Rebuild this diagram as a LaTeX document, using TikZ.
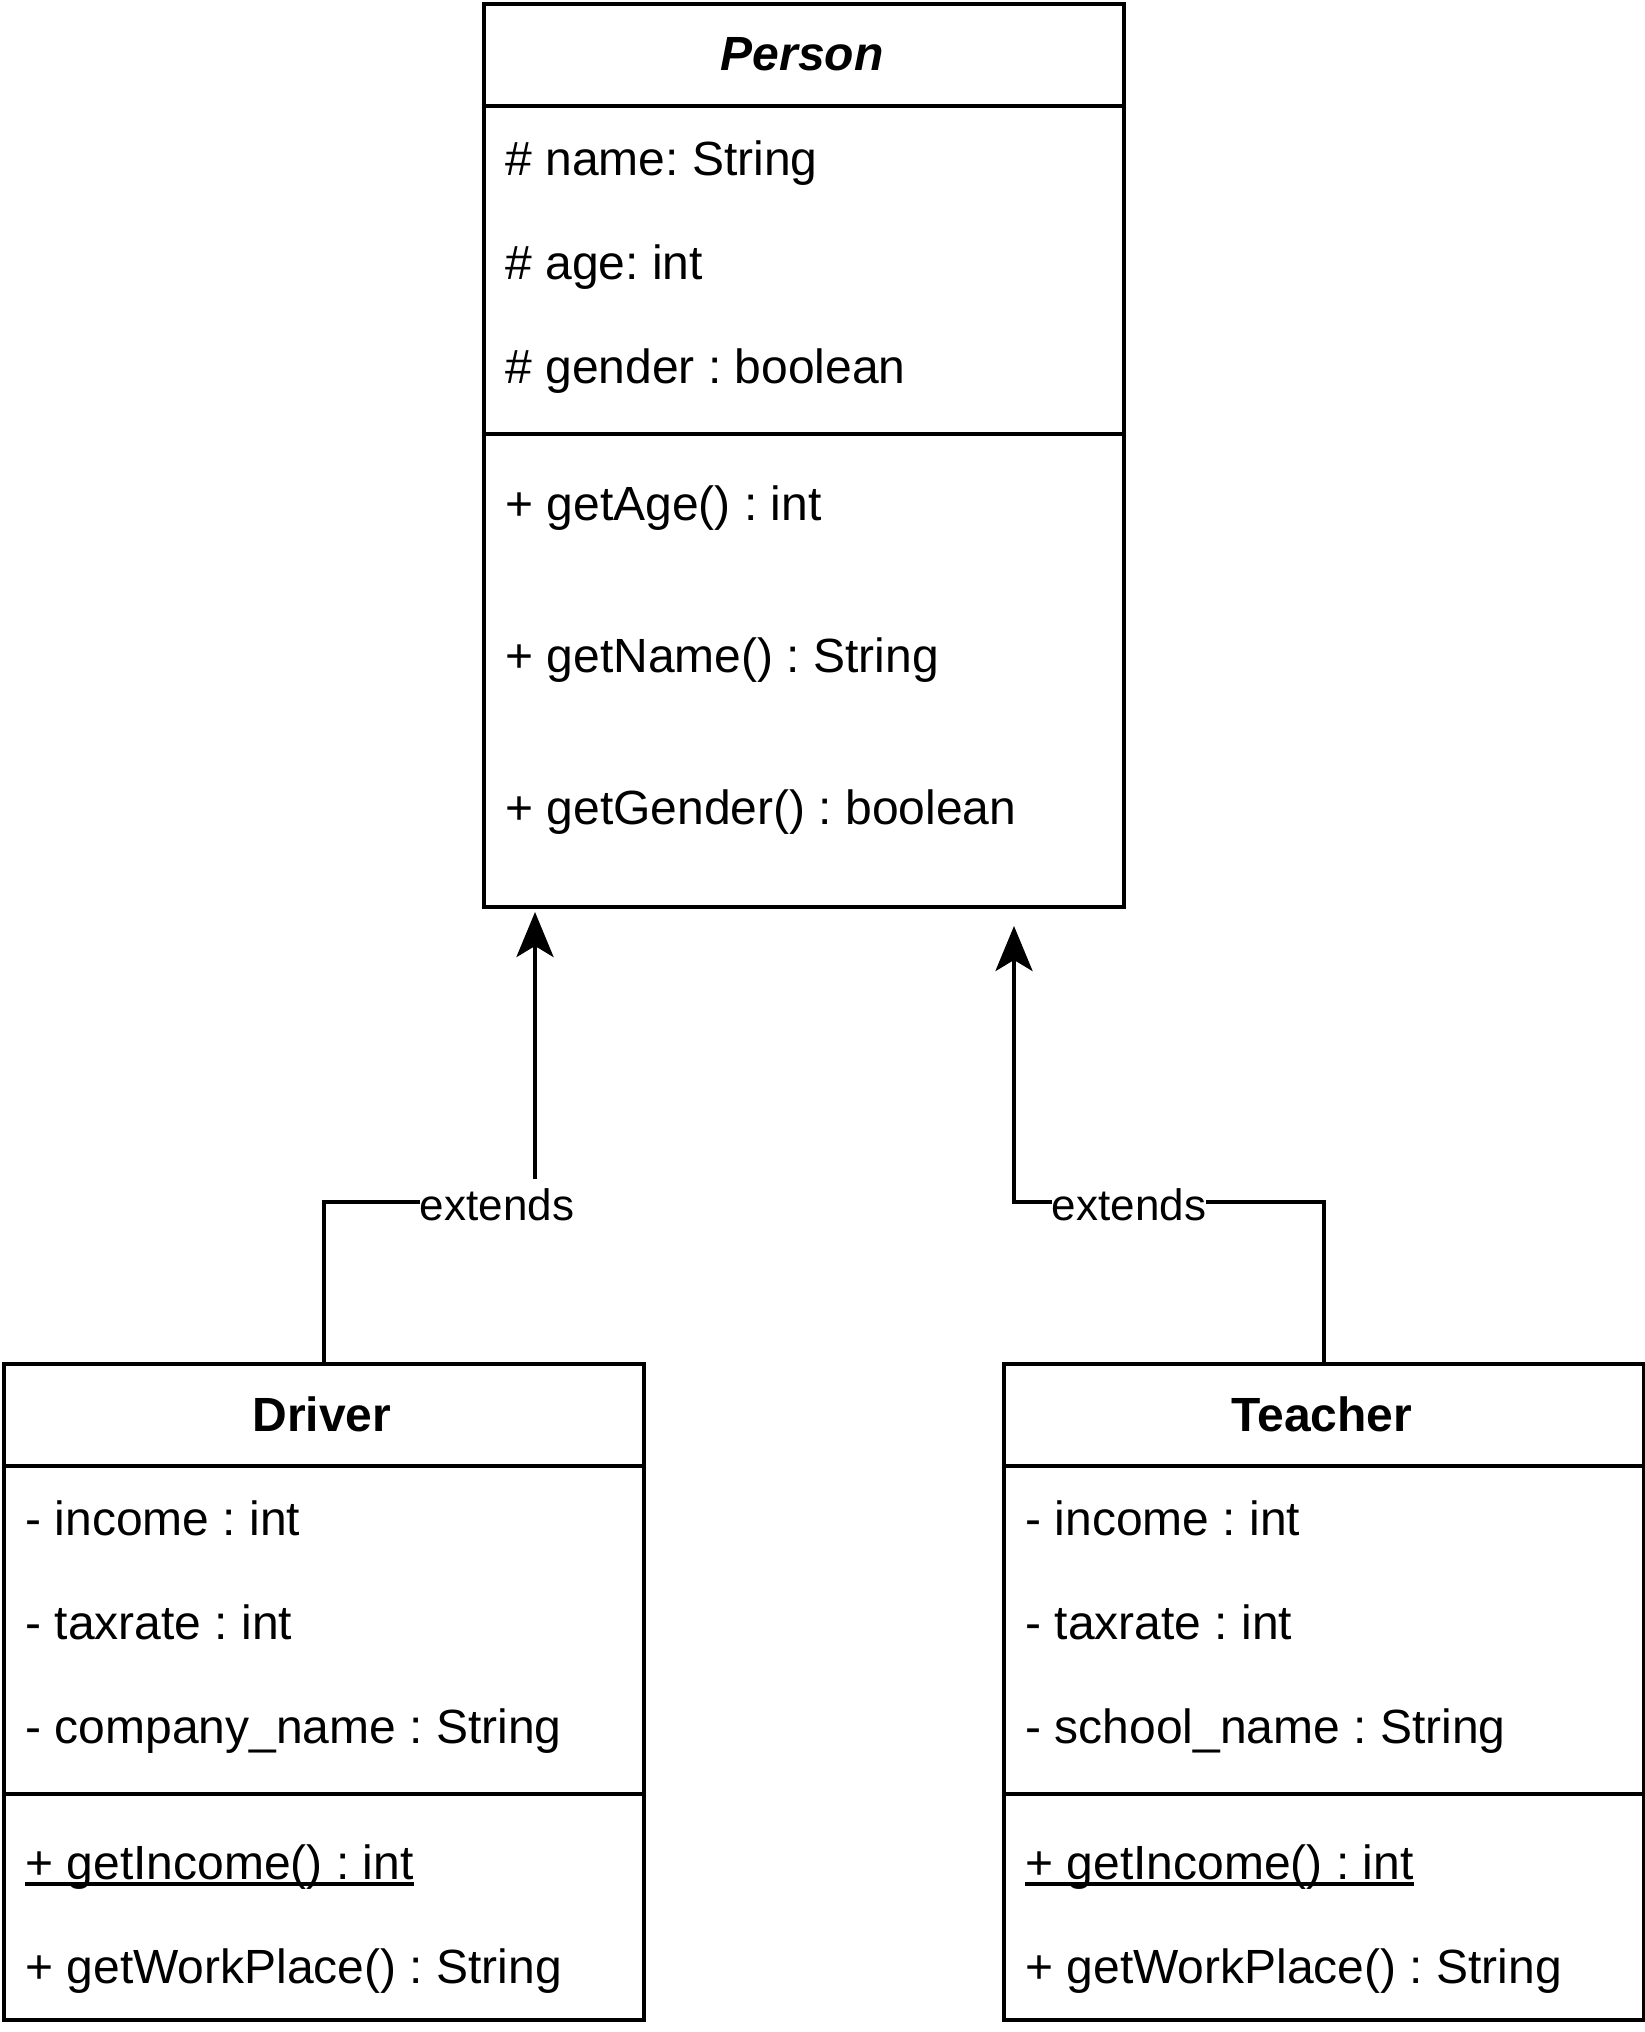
\documentclass[tikz,border=0pt]{standalone}
\usepackage{fontspec}
\setmainfont{Liberation Sans}
\usetikzlibrary{arrows.meta}
\frenchspacing
\tikzset{
  classbox/.style={draw, line width=2pt, inner sep=0pt, anchor=north west, minimum width=320pt},
  divider/.style={line width=2pt},
  member/.style={anchor=base west, inner sep=0pt, font=\fontsize{24pt}{28pt}\selectfont},
  header/.style={anchor=base, inner sep=0pt, font=\fontsize{24pt}{28pt}\selectfont\bfseries},
  aheader/.style={anchor=base, inner sep=0pt, font=\fontsize{24pt}{28pt}\selectfont\bfseries\itshape},
  conn/.style={line width=2pt, -{Stealth[length=22.5pt 0, width=18.5pt 0, inset=5.5pt 0]}},
  lbl/.style={anchor=base, fill=white, inner xsep=0pt, inner ysep=0pt, text height=20.5pt, text depth=5pt, font=\fontsize{22pt}{26pt}\selectfont},
  uline/.style={line width=1.75pt}
}
\begin{document}
\begin{tikzpicture}[x=0.5pt,y=-0.5pt]
\useasboundingbox (0,0) rectangle (1644,2032);

% Person
\node[classbox, minimum height=451.5pt] (person) at (481.5,2) {};
\draw[divider] (481.5,106) -- (1121.5,106);
\draw[divider] (481.5,434) -- (1121.5,434);
\node[aheader] (pname) at (802,71) {Person};
\node[member] (pa1) at (505,176) {\# name: String};
\node[member] (pa2) at (505,280) {\# age: int};
\node[member] (pa3) at (505,384) {\# gender : boolean};
\node[member] (pm1) at (505,520) {+ getAge() : int};
\node[member] (pm2) at (505,672) {+ getName() : String};
\node[member] (pm3) at (505,824) {+ getGender() : boolean};

% Driver
\node[classbox, minimum height=328pt] (driver) at (2,1362) {};
\draw[divider] (2,1466) -- (642,1466);
\draw[divider] (2,1794) -- (642,1794);
\node[header] (dname) at (322,1431) {Driver};
\node[member] (da1) at (25,1535) {- income : int};
\node[member] (da2) at (25,1639) {- taxrate : int};
\node[member] (da3) at (25,1743) {- company\_name : String};
\node[member] (dm1) at (25,1879) {+ getIncome() : int};
\node[member] (dm2) at (25,1983) {+ getWorkPlace() : String};
\draw[uline] ([yshift=-2.5pt]dm1.base west) -- ([yshift=-2.5pt]dm1.base east);

% Teacher
\node[classbox, minimum height=328pt] (teacher) at (1002,1362) {};
\draw[divider] (1002,1466) -- (1642,1466);
\draw[divider] (1002,1794) -- (1642,1794);
\node[header] (tname) at (1322,1431) {Teacher};
\node[member] (ta1) at (1025,1535) {- income : int};
\node[member] (ta2) at (1025,1639) {- taxrate : int};
\node[member] (ta3) at (1025,1743) {- school\_name : String};
\node[member] (tm1) at (1025,1879) {+ getIncome() : int};
\node[member] (tm2) at (1025,1983) {+ getWorkPlace() : String};
\draw[uline] ([yshift=-2.5pt]tm1.base west) -- ([yshift=-2.5pt]tm1.base east);

% Connectors
\coordinate (lb) at (535,1202);
\coordinate (lt) at (535,912);
\coordinate (rb) at (1014,1202);
\coordinate (rt) at (1014,926);
\draw[conn] (driver.north) |- (lb) -- (lt);
\draw[conn] (teacher.north) |- (rb) -- (rt);
\node[lbl] (lext) at (497,1220) {extends};
\node[lbl] (rext) at (1129,1220) {extends};
\end{tikzpicture}
\end{document}
